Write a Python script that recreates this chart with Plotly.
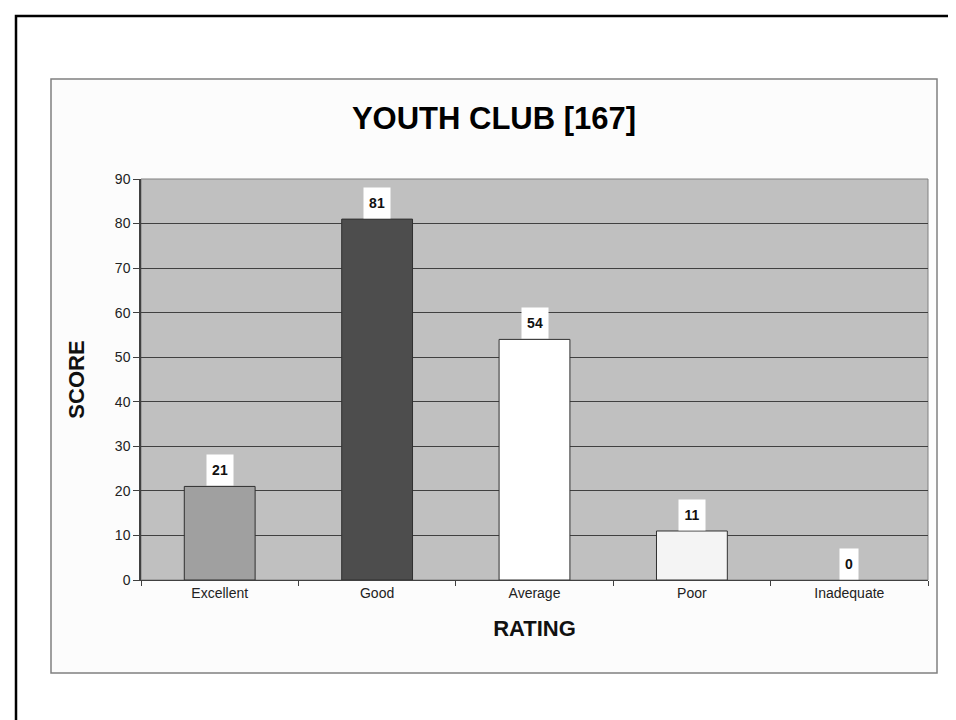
import plotly.graph_objects as go

ratings = ["Excellent", "Good", "Average", "Poor", "Inadequate"]
scores = [21, 81, 54, 11, 0]
bar_colors = ["#a0a0a0", "#4d4d4d", "#ffffff", "#f4f4f4", "#c0c0c0"]
y_ticks = [0, 10, 20, 30, 40, 50, 60, 70, 80, 90]

FONT = "Arial, Liberation Sans, sans-serif"

# plot area in pixels: x 133..920, y 171..572
L, R, T, B = 133, 36, 171, 148
W, H = 956 - L - R, 720 - T - B


def px(x):
    return (x - L) / W


def py(y):
    return (720 - B - y) / H


fig = go.Figure()
fig.add_trace(go.Bar(
    x=ratings,
    y=scores,
    marker=dict(color=bar_colors,
                line=dict(color="#303030", width=[1 if s > 0 else 0 for s in scores])),
    width=0.45,
    hoverinfo="x+y",
))

for r, s in zip(ratings, scores):
    fig.add_annotation(
        x=r, y=s, text="<b>%d</b>" % s, showarrow=False,
        yanchor="bottom", bgcolor="#ffffff",
        width=8 + 8 * len(str(s)), height=28,
        font=dict(family=FONT, size=14, color="#111111"),
    )

fig.update_layout(
    width=956, height=720,
    margin=dict(l=L, r=R, t=T, b=B),
    paper_bgcolor="#ffffff",
    plot_bgcolor="#c0c0c0",
    showlegend=False,
    font=dict(family=FONT, size=14, color="#222222"),
    title=dict(
        text="<b>YOUTH CLUB [167]</b>",
        x=(486 / 956), xanchor="center",
        y=1 - 110 / 720, yanchor="middle",
        font=dict(family=FONT, size=31, color="#000000"),
    ),
    shapes=[
        # chart box
        dict(type="rect", xref="paper", yref="paper", layer="below",
             x0=px(43), x1=px(929), y0=py(665), y1=py(71),
             fillcolor="#fcfcfc", line=dict(color="#808080", width=1.5)),
        # plot area background (box above covers plot_bgcolor)
        dict(type="rect", xref="paper", yref="paper", layer="below",
             x0=0, x1=1, y0=0, y1=1,
             fillcolor="#c0c0c0", line=dict(color="#808080", width=1)),
        # page frame
        dict(type="rect", xref="paper", yref="paper", layer="below",
             x0=px(8), x1=px(970), y0=py(740), y1=py(8),
             fillcolor="rgba(0,0,0,0)", line=dict(color="#000000", width=2.5)),
    ],
)

fig.update_xaxes(
    title=dict(text="<b>RATING</b>", standoff=20,
               font=dict(family=FONT, size=22, color="#111111")),
    tickson="boundaries", ticks="outside", ticklen=5, tickcolor="#404040",
    showline=True, linecolor="#404040", linewidth=1, mirror=False,
    tickfont=dict(family=FONT, size=14, color="#222222"),
    showgrid=False,
)
fig.update_yaxes(
    title=dict(text="<b>SCORE</b>", standoff=24,
               font=dict(family=FONT, size=22, color="#111111")),
    range=[0, 90], tickvals=y_ticks,
    ticks="outside", ticklen=6, tickcolor="#404040",
    showline=True, linecolor="#404040", linewidth=1.5,
    showgrid=True, gridcolor="#404040", gridwidth=1,
    tickfont=dict(family=FONT, size=14, color="#222222"),
    zeroline=False,
)

fig.write_html("out.html")
